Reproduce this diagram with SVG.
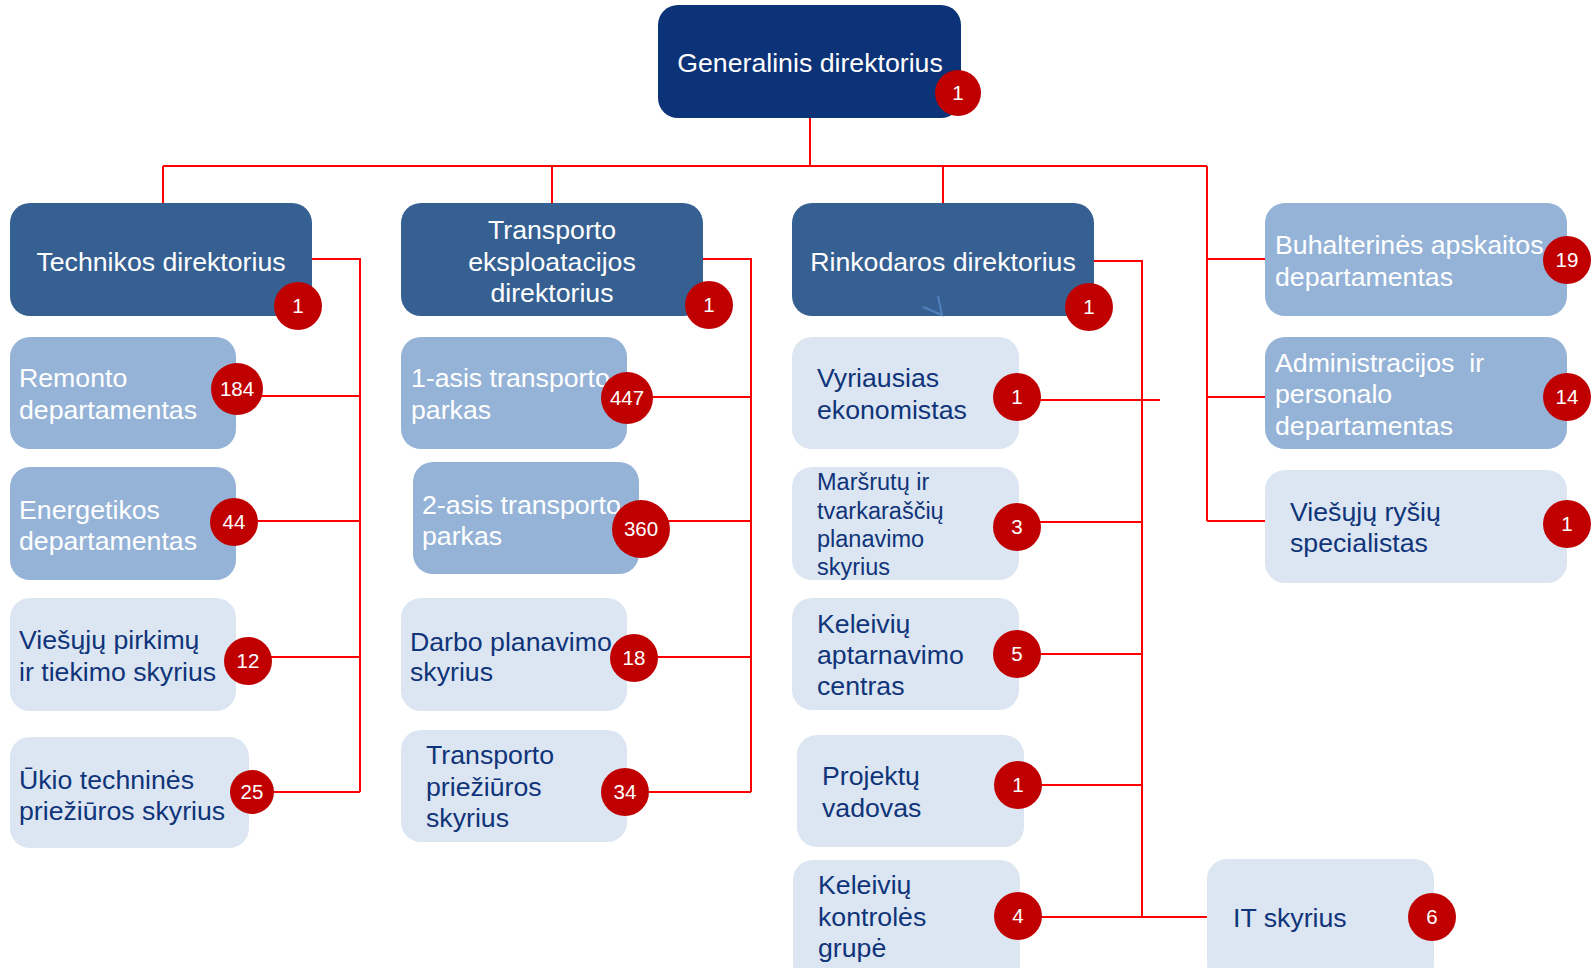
<svg xmlns="http://www.w3.org/2000/svg" width="1593" height="968" viewBox="0 0 1593 968">
<style>
.t{font-family:"Liberation Sans",Arial,sans-serif;font-size:26.7px}
.w{fill:#ffffff}
.d{fill:#0f3479}
.c{text-anchor:middle}
.s{font-size:23.5px}
.top{fill:#0c3278}
.dir{fill:#376092}
.mid{fill:#95b3d7}
.lt{fill:#dce6f2}
.bd circle{fill:#c00000}
.bd text{font-family:"Liberation Sans",Arial,sans-serif;font-size:20.5px;fill:#ffffff;text-anchor:middle}
.cn{stroke:#ff0000;stroke-width:2;fill:none}
</style>
<rect width="1593" height="968" fill="#ffffff"/>
<g id="connectors" class="cn">
<path d="M810 118V166M163 166H1207M163 166V203M552 166V203M943 166V203"/>
<path d="M1207 166V521M1207 259H1265M1207 397H1265M1207 521H1265"/>
<path d="M312 259H360V792M237 396H360M234 521H360M248 657H360M252 792H360"/>
<path d="M703 259H751V792M627 397H751M641 521H751M634 657H751M625 792H751"/>
<path d="M1094 261H1142V917M1017 400H1160M1017 522H1142M1017 654H1142M1018 785H1142M1018 917H1207"/>
</g>
<g id="n-generalinis">
<rect class="top" x="658" y="5" width="303" height="113" rx="20"/>
<text class="t w c" x="810" y="72">Generalinis direktorius</text>
<g class="bd"><circle cx="958" cy="93" r="23"/><text x="958" y="100">1</text></g>
</g>
<g id="n-technikos">
<rect class="dir" x="10" y="203" width="302" height="113" rx="20"/>
<text class="t w c" x="161" y="271">Technikos direktorius</text>
<g class="bd"><circle cx="298" cy="306" r="24"/><text x="298" y="313">1</text></g>
</g>
<g id="n-transporto">
<rect class="dir" x="401" y="203" width="302" height="113" rx="20"/>
<text class="t w c" x="552" y="239">Transporto</text>
<text class="t w c" x="552" y="271">eksploatacijos</text>
<text class="t w c" x="552" y="302">direktorius</text>
<g class="bd"><circle cx="709" cy="305" r="24"/><text x="709" y="312">1</text></g>
</g>
<g id="n-rinkodaros">
<rect class="dir" x="792" y="203" width="302" height="113" rx="20"/>
<text class="t w c" x="943" y="271">Rinkodaros direktorius</text>
<polyline points="923,307 942,315 938,296" fill="none" stroke="#4f81bd" stroke-width="2"/>
<g class="bd"><circle cx="1089" cy="307" r="24"/><text x="1089" y="314">1</text></g>
</g>
<g id="n-buhalterines">
<rect class="mid" x="1265" y="203" width="302" height="113" rx="20"/>
<text class="t w" x="1275" y="254">Buhalterinės apskaitos</text>
<text class="t w" x="1275" y="286">departamentas</text>
<g class="bd"><circle cx="1567" cy="260" r="24"/><text x="1567" y="267">19</text></g>
</g>
<g id="n-administracijos">
<rect class="mid" x="1265" y="337" width="302" height="112" rx="20"/>
<text class="t w" x="1275" y="372" xml:space="preserve">Administracijos  ir</text>
<text class="t w" x="1275" y="403">personalo</text>
<text class="t w" x="1275" y="435">departamentas</text>
<g class="bd"><circle cx="1567" cy="397" r="24"/><text x="1567" y="404">14</text></g>
</g>
<g id="n-rysiu">
<rect class="lt" x="1265" y="470" width="302" height="113" rx="20"/>
<text class="t d" x="1290" y="521">Viešųjų ryšių</text>
<text class="t d" x="1290" y="552">specialistas</text>
<g class="bd"><circle cx="1567" cy="524" r="24"/><text x="1567" y="531">1</text></g>
</g>
<g id="n-remonto">
<rect class="mid" x="10" y="337" width="226" height="112" rx="20"/>
<text class="t w" x="19" y="387">Remonto</text>
<text class="t w" x="19" y="419">departamentas</text>
<g class="bd"><circle cx="237" cy="389" r="26"/><text x="237" y="396">184</text></g>
</g>
<g id="n-energetikos">
<rect class="mid" x="10" y="467" width="226" height="113" rx="20"/>
<text class="t w" x="19" y="519">Energetikos</text>
<text class="t w" x="19" y="550">departamentas</text>
<g class="bd"><circle cx="234" cy="522" r="24"/><text x="234" y="529">44</text></g>
</g>
<g id="n-pirkimu">
<rect class="lt" x="10" y="598" width="226" height="113" rx="20"/>
<text class="t d" x="19" y="649">Viešųjų pirkimų</text>
<text class="t d" x="19" y="681">ir tiekimo skyrius</text>
<g class="bd"><circle cx="248" cy="661" r="24"/><text x="248" y="668">12</text></g>
</g>
<g id="n-ukio">
<rect class="lt" x="10" y="737" width="239" height="111" rx="20"/>
<text class="t d" x="19" y="789">Ūkio techninės</text>
<text class="t d" x="19" y="820">priežiūros skyrius</text>
<g class="bd"><circle cx="252" cy="792" r="22"/><text x="252" y="799">25</text></g>
</g>
<g id="n-1asis">
<rect class="mid" x="401" y="337" width="226" height="112" rx="20"/>
<text class="t w" x="411" y="387">1-asis transporto</text>
<text class="t w" x="411" y="419">parkas</text>
<g class="bd"><circle cx="627" cy="398" r="26"/><text x="627" y="405">447</text></g>
</g>
<g id="n-2asis">
<rect class="mid" x="413" y="462" width="226" height="112" rx="20"/>
<text class="t w" x="422" y="514">2-asis transporto</text>
<text class="t w" x="422" y="545">parkas</text>
<g class="bd"><circle cx="641" cy="529" r="29"/><text x="641" y="536">360</text></g>
</g>
<g id="n-darbo">
<rect class="lt" x="401" y="598" width="226" height="113" rx="20"/>
<text class="t d" x="410" y="651">Darbo planavimo</text>
<text class="t d" x="410" y="681">skyrius</text>
<g class="bd"><circle cx="634" cy="658" r="24"/><text x="634" y="665">18</text></g>
</g>
<g id="n-prieziuros">
<rect class="lt" x="401" y="730" width="226" height="112" rx="20"/>
<text class="t d" x="426" y="764">Transporto</text>
<text class="t d" x="426" y="796">priežiūros</text>
<text class="t d" x="426" y="827">skyrius</text>
<g class="bd"><circle cx="625" cy="792" r="24"/><text x="625" y="799">34</text></g>
</g>
<g id="n-vyriausias">
<rect class="lt" x="792" y="337" width="227" height="112" rx="20"/>
<text class="t d" x="817" y="387">Vyriausias</text>
<text class="t d" x="817" y="419">ekonomistas</text>
<g class="bd"><circle cx="1017" cy="397" r="24"/><text x="1017" y="404">1</text></g>
</g>
<g id="n-marsrutu">
<rect class="lt" x="792" y="467" width="227" height="113" rx="20"/>
<text class="t s d" x="817" y="490">Maršrutų ir</text>
<text class="t s d" x="817" y="519">tvarkaraščių</text>
<text class="t s d" x="817" y="547">planavimo</text>
<text class="t s d" x="817" y="575">skyrius</text>
<g class="bd"><circle cx="1017" cy="527" r="24"/><text x="1017" y="534">3</text></g>
</g>
<g id="n-aptarnavimo">
<rect class="lt" x="792" y="598" width="227" height="112" rx="20"/>
<text class="t d" x="817" y="633">Keleivių</text>
<text class="t d" x="817" y="664">aptarnavimo</text>
<text class="t d" x="817" y="695">centras</text>
<g class="bd"><circle cx="1017" cy="654" r="24"/><text x="1017" y="661">5</text></g>
</g>
<g id="n-projektu">
<rect class="lt" x="797" y="735" width="227" height="112" rx="20"/>
<text class="t d" x="822" y="785">Projektų</text>
<text class="t d" x="822" y="817">vadovas</text>
<g class="bd"><circle cx="1018" cy="785" r="24"/><text x="1018" y="792">1</text></g>
</g>
<g id="n-kontroles">
<rect class="lt" x="793" y="860" width="227" height="125" rx="20"/>
<text class="t d" x="818" y="894">Keleivių</text>
<text class="t d" x="818" y="926">kontrolės</text>
<text class="t d" x="818" y="957">grupė</text>
<g class="bd"><circle cx="1018" cy="916" r="24"/><text x="1018" y="923">4</text></g>
</g>
<g id="n-it">
<rect class="lt" x="1207" y="859" width="227" height="125" rx="20"/>
<text class="t d" x="1233" y="927">IT skyrius</text>
<g class="bd"><circle cx="1432" cy="917" r="24"/><text x="1432" y="924">6</text></g>
</g>
</svg>
